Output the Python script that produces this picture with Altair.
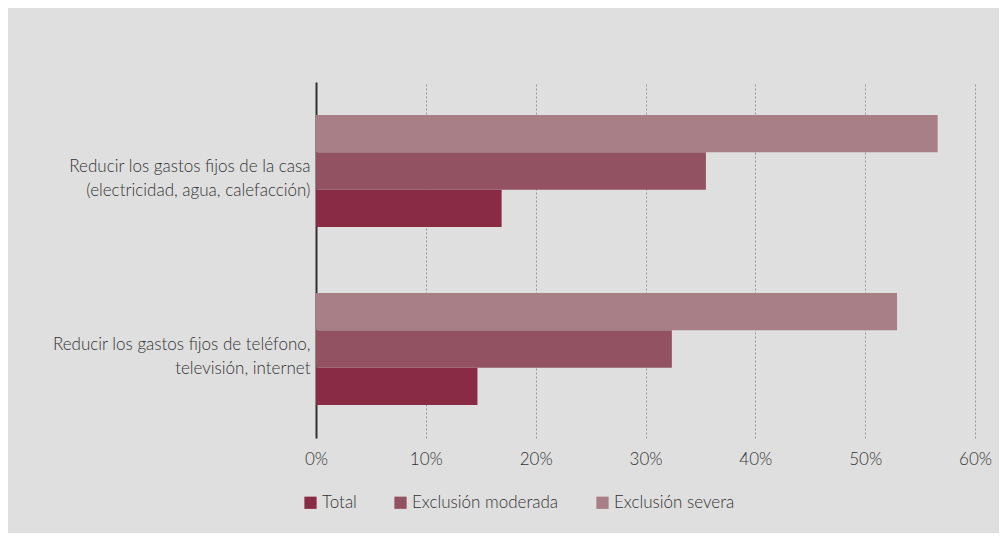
import altair as alt
import pandas as pd

categories = [
    "Reducir los gastos fijos de la casa|(electricidad, agua, calefacción)",
    "Reducir los gastos fijos de teléfono,|televisión, internet",
]
series = ["Total", "Exclusión moderada", "Exclusión severa"]
total = [16.9, 14.7]
moderada = [35.5, 32.4]
severa = [56.6, 52.9]
colors = ["#8a2b45", "#935261", "#a87f86"]
x_ticks = [0, 10, 20, 30, 40, 50, 60]

rows = []
for i, c in enumerate(categories):
    for s, vals in zip(series, [total, moderada, severa]):
        rows.append({"cat": c, "serie": s, "valor": vals[i] / 100})
df = pd.DataFrame(rows)

FONT = "Lato"
TXT = "#333333"
FS = 17

chart = alt.Chart(df).mark_bar(stroke=None).encode(
    y=alt.Y("cat:N", sort=categories, title=None,
            scale=alt.Scale(paddingInner=0.37, paddingOuter=0.185),
            axis=alt.Axis(labelExpr="split(datum.label, '|')", ticks=False,
                          domain=True, domainColor="#333333", domainWidth=2,
                          labelPadding=6, labelOffset=-4, labelFontSize=FS,
                          labelLineHeight=24,
                          labelColor=TXT, labelFont=FONT, labelFontWeight=300,
                          labelLimit=400, grid=False)),
    x=alt.X("valor:Q", title=None,
            scale=alt.Scale(domain=[0, 0.6], nice=False),
            axis=alt.Axis(values=[v / 100 for v in x_ticks], format=".0%",
                          domain=False, ticks=False, grid=True, labelFlush=False,
                          gridColor="#999999", gridDash=[2, 2], gridWidth=1,
                          labelPadding=13, labelFontSize=FS, labelColor=TXT,
                          labelFont=FONT, labelFontWeight=300)),
    yOffset=alt.YOffset("serie:N", sort=series[::-1]),
    color=alt.Color("serie:N", sort=series,
                    scale=alt.Scale(domain=series, range=colors),
                    legend=alt.Legend(title=None, orient="none", direction="horizontal",
                                      legendX=-14, legendY=412,
                                      symbolType="square", symbolSize=150,
                                      symbolStrokeWidth=0, symbolOpacity=1,
                                      labelFontSize=FS, labelColor=TXT,
                                      labelFont=FONT, labelFontWeight=300,
                                      labelOffset=3, columnPadding=35)),
).properties(
    width=659, height=356,
    background="#dfdfdf",
    padding={"left": 308, "top": 74, "right": 24, "bottom": 95},
    autosize=alt.AutoSizeParams(type="none"),
).configure_view(stroke=None)

chart.save("out.html", embed_options={"renderer": "svg", "actions": False})
